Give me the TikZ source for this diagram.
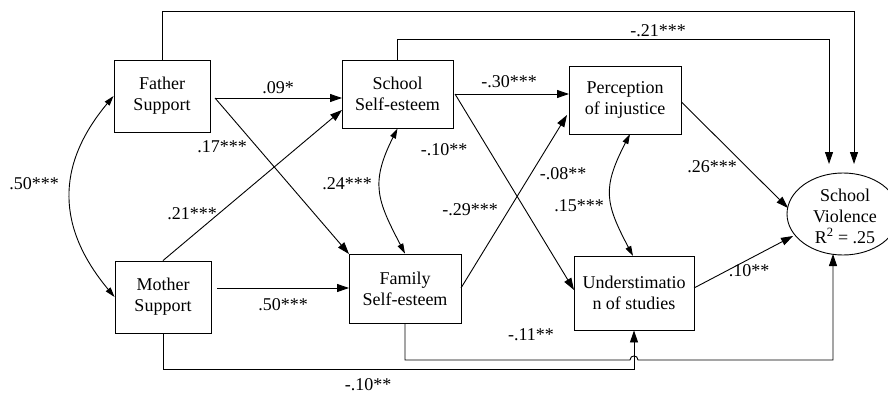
\documentclass[tikz,border=0pt]{standalone}
\usepackage{fontspec}
\setmainfont{Liberation Serif}
\usetikzlibrary{arrows.meta,shapes.geometric,calc}
\begin{document}
\begin{tikzpicture}[x=1pt,y=-1pt,
  every node/.style={font=\fontsize{18}{21}\selectfont, inner sep=0pt},
  box/.style={draw, line width=0.9pt, align=center},
  lab/.style={anchor=center},
  path/.style={line width=0.9pt, -{Triangle[length=12pt,width=8pt]}},
  cov/.style={line width=0.9pt, {Triangle[length=10pt,width=6pt]}-{Triangle[length=10pt,width=6pt]}}]
\useasboundingbox (0,0) rectangle (888,396);
\clip (0,0) rectangle (888,396);

% variables
\node[box, minimum width=96pt, minimum height=72pt] (fa) at (162,96) {Father\\Support};
\node[box, minimum width=96pt, minimum height=72pt] (mo) at (163,297) {Mother\\Support};
\node[box, minimum width=111pt, minimum height=68pt] (sc) at (397.5,94) {School\\Self-esteem};
\node[box, minimum width=112pt, minimum height=69pt] (fam) at (405,288.5) {Family\\Self-esteem};
\node[box, minimum width=112pt, minimum height=68pt] (pe) at (625,100) {Perception\\of injustice};
\node[box, minimum width=120pt, minimum height=74pt] (un) at (634,293) {Understimatio\\n of studies};
\node[draw, line width=0.9pt, ellipse, minimum width=112pt, minimum height=82pt] (sv) at (843,214) {};
\node[align=center] (svtext) at (845,216) {School\\Violence\\R\textsuperscript{2} = .25};

% connector end points
\coordinate (faout) at (215,98);
\coordinate (moout) at (217,288);
\coordinate (scout) at (455,94);
\coordinate (famout) at (461,288);
\coordinate (unout) at (694,288);
\coordinate (scin1) at (342,98);
\coordinate (scin2) at (342,110);
\coordinate (famin1) at (349,254);
\coordinate (famin2) at (349,288);
\coordinate (pein1) at (569,94);
\coordinate (pein2) at (567,115);
\coordinate (unin) at (574,290);
\coordinate (svtopa) at (829,164);
\coordinate (svtopb) at (854,164);
\coordinate (svleft1) at (788,208);
\coordinate (svleft2) at (793,236);
\coordinate (svbot) at (833,254);
\coordinate (peb) at (630,134);
\coordinate (unt) at (633,256);

% direct paths
\draw[path] (faout) -- (scin1);
\draw[path] (faout) -- (famin1);
\draw[path] (mo.north) -- (scin2);
\draw[path] (moout) -- (famin2);
\draw[path] (scout) -- (pein1);
\draw[path] (scout) -- (unin);
\draw[path] (famout) -- (pein2);
\draw[path] (pe.east) ++(0,2) -- (svleft1);
\draw[path] (unout) -- (svleft2);

% long paths to School Violence
\draw[path] (fa.north) |- (854,11) -- (svtopb);
\draw[path] (sc.north) |- (829,39) -- (svtopa);
\draw[path] (mo.south) |- (634,369) -- (un.south);
\draw[path] (fam.south) |- (630,360) .. controls (630,354.6) and (638,354.6) .. (638,360) -- (833,360) -- (svbot);

% correlations
\draw[cov] (fa.west) .. controls (55,166) and (57,228) .. (mo.west);
\draw[cov] (sc.south) .. controls (370,183) and (377,200) .. (fam.north);
\draw[cov] (peb) .. controls (602,188) and (605,203) .. (unt);

% coefficients
\node[lab] (l1) at (278,88) {.09*};
\node[lab] (l2) at (222,147) {.17***};
\node[lab] (l3) at (34,184) {.50***};
\node[lab] (l4) at (347,184) {.24***};
\node[lab] (l5) at (444,150) {-.10**};
\node[lab] (l6) at (658,31) {-.21***};
\node[lab] (l7) at (509,82) {-.30***};
\node[lab] (l8) at (563,174) {-.08**};
\node[lab] (l9) at (712,167) {.26***};
\node[lab] (l10) at (192,214) {.21***};
\node[lab] (l11) at (283,305) {.50***};
\node[lab] (l12) at (368,385) {-.10**};
\node[lab] (l13) at (470,210) {-.29***};
\node[lab] (l14) at (579,206) {.15***};
\node[lab] (l15) at (749,271) {.10**};
\node[lab] (l16) at (531,335) {-.11**};
\end{tikzpicture}
\end{document}
